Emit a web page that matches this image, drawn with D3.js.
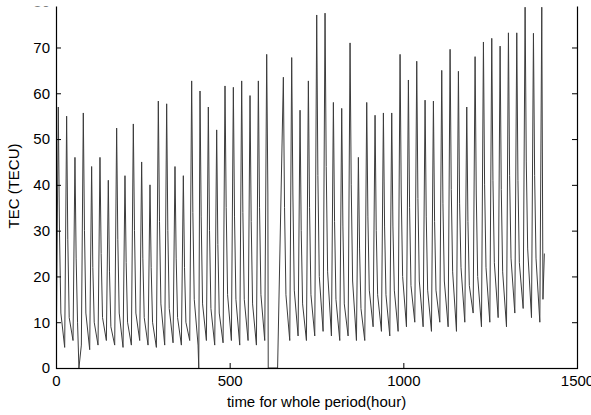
<!DOCTYPE html>
<html>
<head>
<meta charset="utf-8">
<script src="https://cdn.jsdelivr.net/npm/d3@7"></script>
<style>
  body { margin: 0; background: #fff; }
  text { font-family: "Liberation Sans", Arial, sans-serif; font-size: 15px; fill: #000; }
</style>
</head>
<body>
<script>
const width = 591;
const height = 415;

// daily TEC values (one entry per day, 59 days)
// hours within a day where each value sits: pre-dawn minimum, peak, afternoon, night
const dayHours = [1, 6.6, 10, 14];
const minVals = [6, 4.5, 6, 5, 4, 5, 6, 5, 4.5, 5, 6, 5, 4.5, 5, 5.5, 5, 6,
    5, 6, 5, 5.5, 6, 5, 6, 5, 6, 5, null, 6, 7, 6, 7, 8, 7, 6, 7, 6, 6,
    9, 8, 7, 8, 9, 10, 9, 8, 10, 9, 8, 10, 12, 9, 10, 11, 9, 12, 13, 11, 10, 12];
const peakVals = [57, 55, 46, 55.7, 44, 46, 41, 52.4, 42, 53.3, 45, 40, 58.3, 57.7, 44, 42,
    62.7, 60.5, 57, 52, 61.6, 61.3, 62.7, 59.5, 62.7, 68.5, null, 63.5, 67.8, 56.3, 62.7,
    77.1, 77.5, 58, 56.7, 71, 46, 58, 55.2, 55.7, 55.7, 68.5, 62.9, 67, 58.5, 58.3, 65,
    69.6, 64.8, 57, 68, 71.2, 72, 70.3, 73.2, 73.2, 78.8, 73.1, 78.8];
const eveVals = [30, 28, 24, 30, 22, 25, 21, 28, 23, 30, 24, 22, 32, 30, 24, 22, 34, 33,
    30, 27, 35, 33, 34, 32, 35, 38, null, 35, 38, 30, 35, 42, 44, 32, 31, 40, 26, 33, 30,
    31, 31, 38, 35, 37, 33, 32, 36, 39, 36, 32, 38, 40, 41, 39, 42, 41, 45, 42, 15];
const nightVals = [12, 11, 10, 12, 10, 11, 9, 12, 10, 12, 11, 10, 14, 13, 11, 10, 15, 14,
    13, 12, 16, 15, 15, 14, 16, 18, null, 16, 17, 14, 16, 20, 21, 15, 14, 19, 13, 17, 16,
    16, 17, 20, 18, 19, 17, 17, 19, 21, 22, 18, 20, 22, 23, 21, 24, 23, 26, 24, 25];

// data dropouts (hour, value) and the missing stretch
const dropouts = [[0, 6], [66, 0], [411, 0], [611, 0], [638, 0]];
const gapHours = [610, 639];

const xTicks = [0, 500, 1000, 1500];
const yTicks = [0, 10, 20, 30, 40, 50, 60, 70, 80];

let points = [];
peakVals.forEach(function (p, k) {
    [minVals[k], p, eveVals[k], nightVals[k]].forEach(function (v, i) {
        if (v == null) return;
        const t = 24 * k + dayHours[i];
        if (t > gapHours[0] && t < gapHours[1]) return;
        points.push([t, v]);
    });
});
points = points.concat(dropouts).sort(function (a, b) { return a[0] - b[0]; });

const svg = d3.select("body").append("svg")
    .attr("width", width)
    .attr("height", height);

svg.append("rect").attr("width", width).attr("height", height).attr("fill", "#fff");

const x = d3.scaleLinear().domain([0, 1500]).range([56, 577]);
const y = d3.scaleLinear().domain([0, 80]).range([368, 1.7]);

svg.append("clipPath").attr("id", "plot")
    .append("rect")
    .attr("x", x(0)).attr("y", y(80))
    .attr("width", x(1500) - x(0)).attr("height", y(0) - y(80));

const line = d3.line()
    .x(function (d) { return x(d[0]); })
    .y(function (d) { return y(d[1]); });

svg.append("path")
    .datum(points)
    .attr("clip-path", "url(#plot)")
    .attr("fill", "none")
    .attr("stroke", "#3c3c3c")
    .attr("stroke-width", 1)
    .attr("d", line);

// axes with inward ticks
const left = svg.append("g")
    .attr("transform", "translate(" + x(0) + ",0)")
    .call(d3.axisLeft(y).tickValues(yTicks).tickSizeInner(-5).tickSizeOuter(0).tickPadding(6));
const right = svg.append("g")
    .attr("transform", "translate(" + x(1500) + ",0)")
    .call(d3.axisRight(y).tickValues(yTicks).tickSizeInner(-5).tickSizeOuter(0).tickFormat(""));
const bottom = svg.append("g")
    .attr("transform", "translate(0," + y(0) + ")")
    .call(d3.axisBottom(x).tickValues(xTicks).tickFormat(d3.format("d"))
        .tickSizeInner(-5).tickSizeOuter(0).tickPadding(7));

[left, right, bottom].forEach(function (g) {
    g.select(".domain").remove();
    g.selectAll("line").attr("stroke", "#000");
    g.selectAll("text").attr("font-family", null).attr("font-size", null).attr("fill", "#000");
});

svg.append("rect")
    .attr("x", x(0) + 0.5).attr("y", y(80))
    .attr("width", x(1500) - x(0)).attr("height", y(0) - y(80) + 0.5)
    .attr("fill", "none")
    .attr("stroke", "#000")
    .attr("stroke-width", 1.2);

svg.append("text")
    .attr("x", (x(0) + x(1500)) / 2)
    .attr("y", 407)
    .attr("text-anchor", "middle")
    .text("time for whole period(hour)");

svg.append("text")
    .attr("transform", "translate(19,186) rotate(-90)")
    .attr("text-anchor", "middle")
    .text("TEC (TECU)");

// the top strip of the figure is cut off in the original
svg.append("rect").attr("width", width).attr("height", 6.5).attr("fill", "#fff");
</script>
</body>
</html>
